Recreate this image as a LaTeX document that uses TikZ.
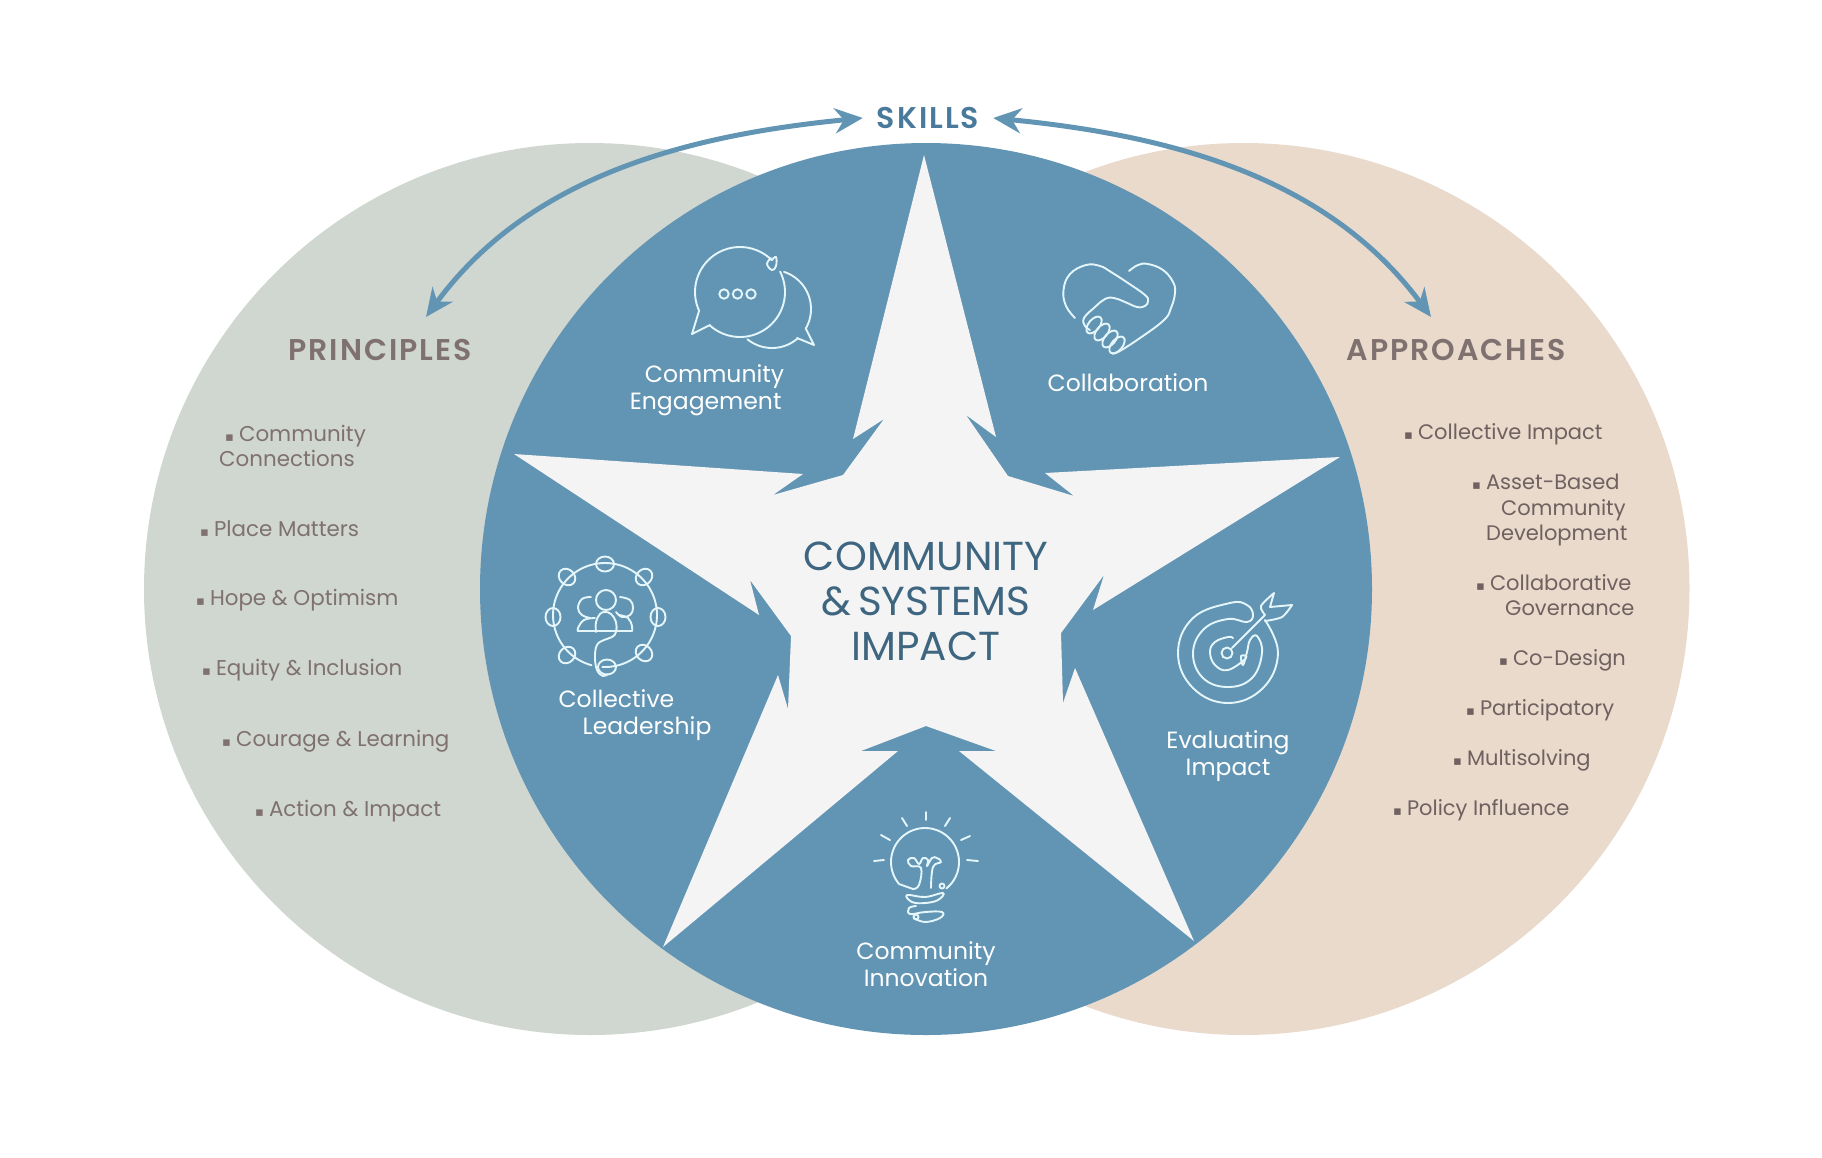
\documentclass[tikz,border=0pt]{standalone}
\usepackage{fontspec}
\setmainfont{Poppins}
\newfontfamily\markfont{DejaVu Sans}
\newfontfamily\headfont[LetterSpace=6.5]{Poppins SemiBold}
\usetikzlibrary{arrows.meta,positioning}
\definecolor{hubblue}{HTML}{6295B4}
\definecolor{starfill}{HTML}{F4F4F4}
\definecolor{sage}{HTML}{D0D6D0}
\definecolor{sand}{HTML}{E9DACC}
\definecolor{headgray}{HTML}{7F716F}
\definecolor{inkblue}{HTML}{3E6680}
\definecolor{skillblue}{HTML}{4A7A9B}
\definecolor{listdark}{HTML}{6F6160}
\definecolor{iconline}{HTML}{E4F6FA}
\newcommand{\itemmark}{{\markfont\fontsize{13}{13}\selectfont ▪}\hspace{5pt}}
\tikzset{
  head/.style={font=\fontsize{30}{32}\headfont, text=headgray, inner sep=0pt},
  listitem/.style={font=\fontsize{21.4}{25.5}\selectfont, text=#1, anchor=west, align=left, inner sep=0pt},
  oneline/.style={text height=16pt, text depth=5pt},
  whitelabel/.style={font=\fontsize{23.5}{27}\selectfont, text=white, inner sep=0pt},
  iconpath/.style={draw=iconline, line width=1.9pt, line cap=round, line join=round},
  skillarrow/.style={draw=hubblue, line width=5pt, {Stealth[length=28pt,width=25pt,inset=9pt]}-{Stealth[length=28pt,width=25pt,inset=9pt]}},
}
\begin{document}
\begin{tikzpicture}[x=1pt,y=-1pt]
\useasboundingbox (0,0) rectangle (1822,1157);
% circles
\fill[sage] (590,589) circle (446);
\fill[sand] (1243.5,589) circle (446);
\fill[hubblue] (926,589) circle (446);
% star
\fill[starfill] (924,155) -- (996,437) -- (966,415) -- (1008,476) -- (1074,496) -- (1045,473)
  -- (1340,457) -- (1093,610) -- (1104,575) -- (1061,633) -- (1063,703) -- (1075,668)
  -- (1194,941) -- (959,751) -- (996,751) -- (926,726) -- (861,751) -- (898,751)
  -- (663,947) -- (778,675) -- (788,709) -- (791,636) -- (750,580) -- (759,615)
  -- (514,454) -- (803,474) -- (773,495) -- (843,475) -- (884,419) -- (853,439) -- cycle;
% headings
\node[head, text=skillblue, minimum width=130pt] (skills) at (928,118) {SKILLS};
\node[head] (principles) at (380,350) {PRINCIPLES};
\node[head] (approaches) at (1456,350) {APPROACHES};
\node[font=\fontsize{40.5}{45}\selectfont, text=inkblue, align=center, inner sep=0pt] (impact) at (926,601) {COMMUNITY\\\&\,SYSTEMS\\IMPACT};
\coordinate (ptip) at (426,317);
\coordinate (atip) at (1431,317);
\draw[skillarrow] (skills.west) .. controls (690,135) and (530,175) .. (ptip);
\draw[skillarrow] (skills.east) .. controls (1166,135) and (1326,175) .. (atip);
% left list
\node[listitem=headgray] (conn) at (219,446) {\hspace*{6pt}\itemmark Community\\Connections};
\foreach \nm/\x/\y/\txt in {place/200/531.3/Place Matters, hope/196/600.3/Hope \& Optimism,
  equity/202/670.3/Equity \& Inclusion, courage/222/741.3/Courage \& Learning, action/255/811.3/Action \& Impact}
  \node[listitem=headgray, oneline] (\nm) at (\x,\y) {\itemmark\txt};
% right list
\foreach \nm/\x/\y/\txt in {cimpact/1404/434.3/Collective Impact, codesign/1499/660.3/Co-Design,
  partic/1466/710.3/Participatory, multi/1453/760.3/Multisolving, policy/1393/810.3/Policy Influence}
  \node[listitem=listdark, oneline, font=\fontsize{21}{25.5}\selectfont] (\nm) at (\x,\y) {\itemmark\txt};
\node[listitem=listdark, font=\fontsize{21}{25.5}\selectfont] (asset) at (1472,510) {\itemmark Asset-Based\\\hspace*{29pt}Community\\\hspace*{14pt}Development};
\node[listitem=listdark, font=\fontsize{21}{25.5}\selectfont] (collab) at (1476,595) {\itemmark Collaborative\\\hspace*{29pt}Governance};
% labels
\node[whitelabel, align=left] (engage) at (707,390) {\hspace*{15pt}Community\\Engagement};
\node[whitelabel] (collabl) at (1128,383) {Collaboration};
\node[whitelabel, align=left] (lead) at (635,715) {Collective\\\hspace*{24pt}Leadership};
\node[whitelabel, align=center] (eval) at (1228,756) {Evaluating\\Impact};
\node[whitelabel, align=center] (innov) at (926,964) {Community\\Innovation};
% chat icon
\draw[iconpath] (692,334) -- (699,311) plot[domain=155:315,samples=40] ({740+45*cos(\x)},{292+45*sin(\x)});
\draw[iconpath] plot[smooth,tension=.7] coordinates {(772,260) (776,257) (776,266) (772,270) (767,264) (771,258)};
\draw[iconpath] (692,334) -- (710,325) plot[domain=132:-27,samples=40] ({740+45*cos(\x)},{292+45*sin(\x)});
\draw[iconpath] plot[domain=-72:30,samples=30] ({772+39*cos(\x)},{309+39*sin(\x)}) -- (814,345) -- (797,338) plot[domain=49:129,samples=20] ({772+39*cos(\x)},{309+39*sin(\x)});
\foreach \x in {724,737.5,751} \draw[iconpath] (\x,294) circle (4.7);
% handshake icon
\draw[iconpath] plot[smooth,tension=.7] coordinates {(1075,318) (1066,306) (1063.5,290) (1070,274) (1086,265) (1100,266) (1111,272) (1128,283) (1145,295) (1148,301) (1145,306) (1137,307) (1125,302) (1114,298) (1105,299) (1095,307) (1084,318) (1085,326) (1090,330)};
\draw[iconpath] plot[smooth,tension=.7] coordinates {(1129,271) (1138,265) (1148,264) (1163,270) (1173,282) (1175,293) (1171,308) (1164,320) (1140,338) (1118,352) (1112,353)};
\foreach \x/\y in {1094/325,1102/332,1110/339,1117/345} \draw[iconpath,rotate around={50:(\x,\y)}] (\x,\y) ellipse (10 and 5.5);
% leadership icon
\draw[iconpath] plot[domain=105:453,samples=90] ({605+52*cos(\x)},{615+52*sin(\x)});
\foreach \x/\y/\r in {605/564/0,644/577/45,658/617/90,644/653/-45,607/667/0,567/655/45,553/617/90,567/577/-45} \draw[iconpath,rotate around={\r:(\x,\y)}] (\x,\y) ellipse (9 and 7.5);
\draw[iconpath] (606,600) circle (10);
\draw[iconpath] plot[smooth,tension=.7] coordinates {(596,632) (596,622) (600,614) (605,612) (611,614) (616,622) (616,632) (612,637) (604,640) (597,645) (595,657) (597,670) (603,676) (608,674)};
\draw[iconpath] plot[smooth,tension=.7] coordinates {(591,597) (582,599) (578,608) (582,615) (590,618)};
\draw[iconpath] plot[smooth,tension=.7] coordinates {(595,618) (584,620) (578,628) (578,631)} -- (632,631);
\draw[iconpath] plot[smooth,tension=.7] coordinates {(632,631) (632,626) (628,618) (619,615)};
\draw[iconpath] plot[smooth,tension=.7] coordinates {(620,597) (630,600) (633,608) (630,615) (622,617) (616,612)};
% target icon
\draw[iconpath] plot[smooth,tension=.7] coordinates {(1265,620) (1278,653) (1263,688) (1228,703) (1193,688) (1178,653) (1193,618) (1230,603) (1247,605) (1253,615) (1247,622) (1228,619) (1204,629) (1193,653) (1203,678) (1228,687) (1252,678) (1262,653) (1257,636) (1250,640) (1247,652) (1243,665) (1241,656) (1246,658) (1228,670) (1215,665) (1210,652) (1215,642) (1228,637) (1233,638)};
\draw[iconpath] (1227,653) circle (5.5);
\draw[iconpath] (1232,648) -- (1265,615);
\draw[iconpath] plot[smooth,tension=.5] coordinates {(1265,615) (1261,606) (1274,593)} -- (1270,607) -- (1292,605);
\draw[iconpath] plot[smooth,tension=.5] coordinates {(1292,605) (1282,617) (1265,621)};
% bulb icon
\draw[iconpath] (913,889) -- (899,884) plot[domain=140:411,samples=60] ({925+34*cos(\x)},{862+34*sin(\x)});
\draw[iconpath] (942,886) circle (2.5);
\draw[iconpath] plot[smooth,tension=.7] coordinates {(913,889) (919,885) (921,868) (911,866) (908,860) (914,858) (919,864) (923,858) (928,860) (927,866) (932,858) (937,858) (941,862) (933,867) (931,888)};
\draw[iconpath] plot[smooth cycle,tension=.7] coordinates {(907,895) (925,897) (943,893) (938,900) (925,903) (912,902)};
\draw[iconpath] plot[smooth,tension=.7] coordinates {(916,906) (909,908) (910,914) (925,912) (942,912) (940,918) (925,922) (914,918)};
\draw[iconpath] (916,917) circle (2.5);
\foreach \xa/\ya/\xb/\yb in {926/812/926/820, 902/818/907/826, 881/835/890/840, 874/861/884/860, 950/818/945/826, 970/836/961/840, 978/861/967/860}
  \draw[iconpath] (\xa,\ya) -- (\xb,\yb);
\end{tikzpicture}
\end{document}
